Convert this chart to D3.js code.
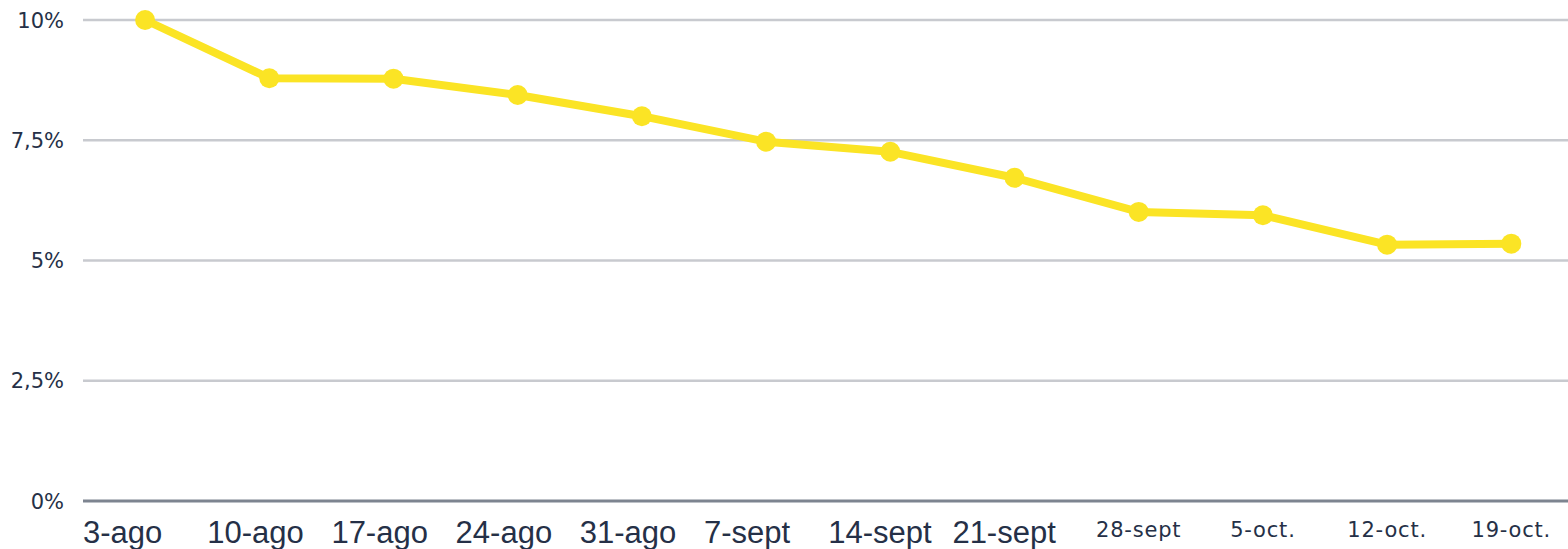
<!DOCTYPE html>
<html>
<head>
<meta charset="utf-8">
<script src="https://cdn.jsdelivr.net/npm/d3@7"></script>
<style>
  body { margin: 0; background: #fff; }
  svg { display: block; }
</style>
</head>
<body>
<svg></svg>
<script>
const width = 1568;
const height = 549;

// data
const weeks = ["3-ago", "10-ago", "17-ago", "24-ago", "31-ago", "7-sept", "14-sept", "21-sept",
               "28-sept", "5-oct.", "12-oct.", "19-oct."];
const rates = [10.0, 8.79, 8.78, 8.44, 8.0, 7.47, 7.26, 6.72, 6.01, 5.94, 5.33, 5.35];
const yTicks = [0, 2.5, 5, 7.5, 10];
const yTickLabels = ["0%", "2,5%", "5%", "7,5%", "10%"];
// the first eight labels come out in a bigger font in the original
const bigLabels = 8;

const margin = {left: 83, right: 0, top: 20, bottom: 48};
const smallFont = "'DejaVu Sans', Verdana, sans-serif";

const svg = d3.select("svg")
    .attr("width", width)
    .attr("height", height);

const x = d3.scaleBand()
    .domain(weeks)
    .range([margin.left, margin.left + 124.2 * weeks.length]);

const y = d3.scaleLinear()
    .domain([0, 10])
    .range([height - margin.bottom, margin.top]);

// gridlines
svg.append("g")
    .selectAll("line")
    .data(yTicks.filter(d => d > 0))
    .enter().append("line")
    .attr("x1", margin.left)
    .attr("x2", width)
    .attr("y1", d => y(d))
    .attr("y2", d => y(d))
    .style("stroke", "#c8cacf")
    .style("stroke-width", 2.5);

// baseline
svg.append("line")
    .attr("x1", margin.left)
    .attr("x2", width)
    .attr("y1", y(0))
    .attr("y2", y(0))
    .style("stroke", "#7d8490")
    .style("stroke-width", 3);

// y labels
svg.append("g")
    .selectAll("text")
    .data(yTicks)
    .enter().append("text")
    .attr("x", 64)
    .attr("y", d => y(d))
    .attr("dy", "0.36em")
    .attr("text-anchor", "end")
    .style("font-family", smallFont)
    .style("font-size", "21px")
    .style("fill", "#253047")
    .text((d, i) => yTickLabels[i]);

// x labels
svg.append("g")
    .selectAll("text")
    .data(weeks)
    .enter().append("text")
    .attr("x", (d, i) => i < bigLabels ? x(d) : x(d) + x.bandwidth() / 2)
    .attr("y", (d, i) => i < bigLabels ? 543 : 537)
    .attr("text-anchor", (d, i) => i < bigLabels ? "start" : "middle")
    .style("font-family", (d, i) => i < bigLabels ? "'Liberation Sans', Arial, sans-serif" : smallFont)
    .style("font-size", (d, i) => i < bigLabels ? "31px" : "21px")
    .style("letter-spacing", (d, i) => i < bigLabels ? "0px" : "0.8px")
    .style("fill", "#253047")
    .text(d => d);

const cx = d => x(d) + x.bandwidth() / 2;

const line = d3.line()
    .x((d, i) => cx(weeks[i]))
    .y(d => y(d));

svg.append("path")
    .datum(rates)
    .attr("d", line)
    .style("fill", "none")
    .style("stroke", "#fbe425")
    .style("stroke-width", 8)
    .style("stroke-linejoin", "round");

svg.append("g")
    .selectAll("circle")
    .data(rates)
    .enter().append("circle")
    .attr("cx", (d, i) => cx(weeks[i]))
    .attr("cy", d => y(d))
    .attr("r", 10)
    .style("fill", "#fbe425");
</script>
</body>
</html>
